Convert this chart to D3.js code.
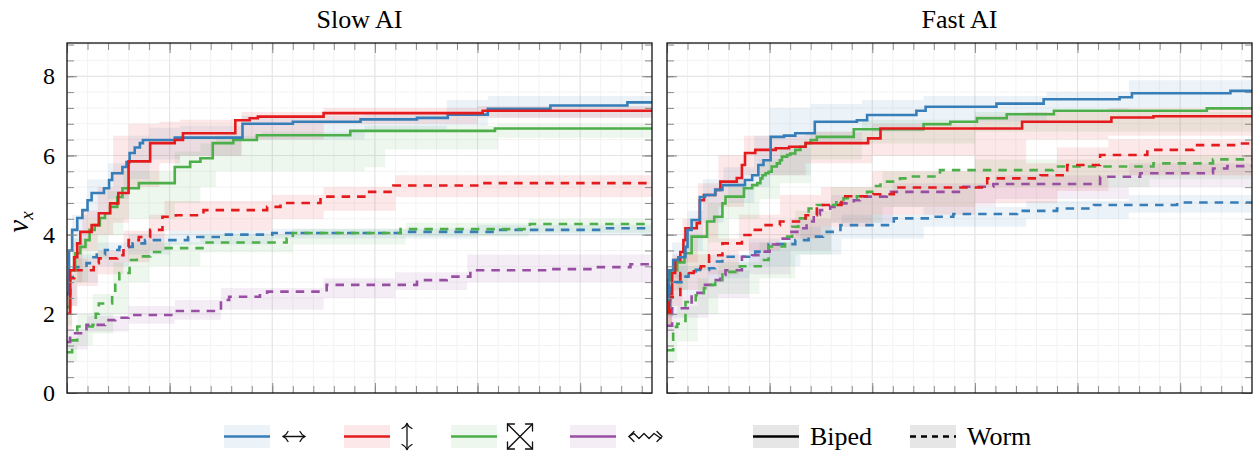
<!DOCTYPE html>
<html>
<head>
<meta charset="utf-8">
<script src="https://cdn.jsdelivr.net/npm/d3@7"></script>
<style>
  body { margin: 0; background: #fff; }
  svg { display: block; }
</style>
</head>
<body>
<svg id="chart" width="1253" height="453"></svg>
<script>
// x runs over the run length (no labels on the axis), y is v_x
const xMax = 570;
const yMax = 8.84;
const yTicks = [0, 2, 4, 6, 8];
const panelTitles = ["Slow AI", "Fast AI"];

// ---- Slow AI: [x, v] means and [x, lo, hi] bands ----
const slowBlueSolid = [[0,2.5],[2,3.6],[5,4.12],[10,4.42],[15,4.62],[20,4.87],[24,5.05],[36,5.17],[41,5.38],[44,5.55],[54,5.71],[58,5.83],[61,6.06],[66,6.2],[71,6.31],[74,6.39],[105,6.45],[171,6.8],[220,6.85],[286,6.91],[341,6.95],[371,7.03],[410,7.18],[471,7.26],[546,7.34],[570,7.34]];
const slowBlueSolidBand = [[0,2.0,3.0],[5,3.7,4.5],[20,4.4,5.4],[40,4.9,5.8],[60,5.4,6.5],[80,5.9,6.7],[110,6.0,6.75],[170,6.4,7.0],[290,6.6,7.1],[370,6.75,7.4],[410,6.95,7.5],[570,7.0,7.5]];
const slowRedSolid = [[0,2.0],[3,3.1],[7,3.43],[10,3.78],[13,4.07],[24,4.24],[31,4.54],[42,4.79],[50,5.05],[60,5.85],[81,6.31],[105,6.39],[113,6.56],[164,6.89],[178,6.94],[186,6.98],[250,7.07],[405,7.13],[570,7.13]];
const slowRedSolidBand = [[0,1.6,2.6],[5,2.8,3.8],[15,3.6,4.6],[30,4.0,5.2],[45,4.3,6.5],[60,5.2,6.8],[90,5.8,6.85],[110,6.0,6.9],[170,6.4,7.1],[250,6.8,7.2],[400,6.95,7.25],[570,6.98,7.25]];
const slowGreenSolid = [[0,2.17],[3,3.1],[8,3.53],[13,3.69],[18,3.86],[22,4.12],[27,4.24],[32,4.42],[37,4.54],[42,4.7],[49,4.95],[54,5.17],[70,5.3],[105,5.71],[120,5.84],[130,5.93],[142,6.31],[162,6.39],[185,6.51],[276,6.62],[417,6.68],[570,6.68]];
const slowGreenSolidBand = [[0,1.7,2.6],[5,2.8,3.9],[20,3.4,4.4],[40,4.0,5.1],[55,4.4,5.6],[105,4.8,6.1],[130,5.2,6.3],[145,5.6,6.5],[190,5.6,6.6],[290,5.7,6.75],[310,6.15,6.75],[420,6.45,6.8],[570,6.45,6.8]];
const slowBlueDash = [[0,2.5],[3,2.93],[7,3.18],[19,3.28],[24,3.43],[29,3.5],[37,3.61],[51,3.69],[64,3.78],[76,3.86],[118,3.94],[150,4.0],[200,4.04],[327,4.07],[419,4.12],[520,4.16],[570,4.16]];
const slowBlueDashBand = [[0,2.2,2.9],[10,2.8,3.5],[30,3.2,3.8],[60,3.5,4.0],[100,3.75,4.1],[200,3.9,4.15],[400,3.98,4.25],[570,4.02,4.3]];
const slowRedDash = [[0,2.5],[3,2.9],[7,3.1],[26,3.28],[31,3.4],[49,3.48],[55,3.69],[60,3.86],[70,3.94],[81,4.12],[93,4.45],[106,4.49],[133,4.62],[195,4.7],[208,4.8],[247,4.96],[293,5.08],[318,5.24],[402,5.3],[570,5.3]];
const slowRedDashBand = [[0,2.2,2.8],[10,2.7,3.4],[30,3.0,3.6],[55,3.3,4.1],[80,3.6,4.5],[95,4.1,4.85],[200,4.4,5.0],[250,4.6,5.2],[320,4.95,5.5],[570,5.05,5.5]];
const slowGreenDash = [[0,1.03],[5,1.33],[10,1.68],[25,1.72],[28,2.0],[31,2.26],[44,2.52],[47,2.78],[51,3.03],[61,3.36],[68,3.45],[81,3.56],[93,3.66],[132,3.8],[214,3.9],[220,4.04],[325,4.14],[451,4.27],[570,4.27]];
const slowGreenDashBand = [[0,0.8,1.4],[10,1.2,2.0],[25,1.5,2.5],[45,2.0,3.3],[60,2.8,3.8],[80,3.2,3.8],[130,3.55,4.0],[220,3.75,4.15],[330,3.95,4.3],[450,4.05,4.4],[570,4.1,4.4]];
const slowPurpleDash = [[0,1.29],[3,1.51],[19,1.72],[37,1.84],[47,1.9],[60,1.97],[105,2.07],[150,2.35],[158,2.43],[188,2.47],[195,2.56],[253,2.73],[341,2.85],[370,2.94],[393,3.1],[471,3.13],[516,3.18],[549,3.25],[570,3.25]];
const slowPurpleDashBand = [[0,1.1,1.6],[20,1.55,1.95],[60,1.75,2.2],[105,1.85,2.35],[150,2.1,2.65],[250,2.4,2.9],[320,2.6,3.05],[390,2.8,3.5],[570,2.95,3.5]];

// ---- Fast AI ----
const fastBlueSolid = [[0,2.35],[2,3.1],[6,3.36],[11,3.43],[18,3.69],[20,4.12],[24,4.37],[32,4.95],[37,5.0],[47,5.13],[54,5.25],[76,5.38],[83,5.5],[89,5.76],[94,5.88],[101,6.47],[114,6.5],[125,6.56],[144,6.85],[185,6.89],[195,7.02],[243,7.13],[252,7.23],[321,7.31],[367,7.42],[441,7.47],[453,7.57],[549,7.63],[570,7.63]];
const fastBlueSolidBand = [[0,2.0,2.8],[5,2.9,3.8],[20,3.6,4.6],[35,4.3,5.4],[55,4.8,5.7],[85,5.2,6.5],[100,5.5,7.2],[140,6.3,7.3],[190,6.6,7.4],[250,6.85,7.5],[370,7.1,7.6],[450,7.2,7.9],[570,7.3,8.0]];
const fastRedSolid = [[0,2.0],[2,2.5],[5,3.03],[8,3.36],[13,3.56],[16,3.86],[18,4.16],[29,4.29],[32,4.87],[36,5.0],[47,5.13],[52,5.34],[68,5.43],[73,5.76],[76,6.06],[86,6.14],[106,6.18],[119,6.22],[135,6.31],[196,6.43],[208,6.68],[346,6.85],[433,6.96],[474,6.99],[570,6.99]];
const fastRedSolidBand = [[0,1.7,2.5],[5,2.6,3.5],[15,3.3,4.4],[30,3.9,5.3],[50,4.7,6.0],[75,5.5,6.5],[135,5.8,6.6],[200,6.0,6.8],[300,5.8,7.0],[350,6.4,7.1],[430,6.5,7.2],[570,6.6,7.25]];
const fastGreenSolid = [[0,2.0],[1,2.85],[4,3.1],[10,3.3],[17,3.53],[24,3.95],[39,4.33],[46,4.45],[54,4.79],[57,4.96],[75,5.17],[83,5.25],[88,5.3],[91,5.42],[93,5.5],[96,5.55],[99,5.59],[102,5.72],[107,5.8],[110,5.88],[112,5.97],[117,6.01],[120,6.05],[125,6.14],[130,6.22],[135,6.31],[140,6.39],[146,6.47],[182,6.66],[250,6.79],[276,6.85],[302,6.94],[331,7.04],[377,7.13],[526,7.19],[570,7.19]];
const fastGreenSolidBand = [[0,1.6,2.5],[5,2.6,3.4],[20,3.1,4.0],[40,3.8,4.8],[60,4.4,5.3],[90,4.9,5.9],[110,5.3,6.2],[140,5.9,6.6],[190,6.3,6.9],[300,6.6,7.1],[570,6.9,7.3]];
const fastRedDash = [[0,2.0],[3,2.43],[13,3.03],[26,3.15],[33,3.2],[41,3.48],[54,3.78],[73,3.99],[83,4.12],[94,4.24],[110,4.33],[135,4.49],[146,4.75],[170,4.97],[201,5.02],[221,5.19],[312,5.42],[364,5.5],[390,5.76],[422,6.01],[468,6.14],[513,6.26],[559,6.3],[570,6.3]];
const fastRedDashBand = [[0,1.7,2.4],[5,2.2,3.0],[15,2.6,3.5],[40,3.0,3.9],[70,3.6,4.5],[110,3.9,5.0],[150,4.2,5.2],[200,4.5,5.6],[300,4.8,5.8],[380,5.1,6.2],[430,5.5,6.4],[570,5.8,6.6]];
const fastBlueDash = [[0,2.2],[3,2.68],[8,2.8],[18,2.94],[21,3.07],[28,3.11],[41,3.15],[47,3.32],[54,3.44],[86,3.57],[99,3.76],[125,3.86],[138,3.95],[152,4.07],[169,4.24],[221,4.41],[256,4.45],[279,4.52],[341,4.6],[380,4.66],[416,4.75],[497,4.81],[570,4.81]];
const fastBlueDashBand = [[0,1.9,2.6],[10,2.5,3.2],[40,2.9,3.5],[80,3.2,3.9],[130,3.5,4.2],[170,3.9,4.5],[250,4.2,4.7],[350,4.4,4.85],[450,4.55,5.0],[570,4.6,5.05]];
const fastGreenDash = [[0,1.08],[6,1.67],[10,1.75],[18,2.3],[28,2.47],[36,2.65],[41,2.73],[47,2.85],[54,3.06],[71,3.2],[93,3.36],[99,3.7],[115,3.95],[122,4.2],[128,4.41],[138,4.66],[146,4.75],[165,4.87],[172,4.92],[185,4.97],[195,5.08],[200,5.23],[208,5.34],[227,5.42],[237,5.47],[266,5.63],[376,5.72],[474,5.8],[532,5.9],[570,5.9]];
const fastGreenDashBand = [[0,0.8,1.4],[10,1.3,2.2],[30,2.0,2.9],[50,2.5,3.3],[90,2.9,3.8],[125,3.5,4.6],[160,4.3,5.2],[210,4.7,5.6],[300,5.2,5.9],[470,5.4,6.0],[570,5.5,6.1]];
const fastPurpleDash = [[0,1.7],[5,2.14],[24,2.53],[37,2.73],[44,2.85],[52,2.98],[57,3.1],[73,3.44],[83,3.48],[89,3.57],[100,3.75],[109,3.9],[119,4.07],[127,4.16],[136,4.33],[143,4.5],[149,4.62],[159,4.7],[169,4.79],[182,4.87],[188,4.96],[214,5.08],[286,5.21],[318,5.28],[422,5.46],[461,5.55],[532,5.67],[546,5.73],[570,5.76]];
const fastPurpleDashBand = [[0,1.4,2.0],[10,1.9,2.5],[40,2.4,3.1],[80,3.0,3.8],[120,3.6,4.4],[160,4.3,5.0],[220,4.7,5.3],[320,4.9,5.5],[450,5.2,5.8],[570,5.4,6.0]];

const colors = { blue: '#377eb8', red: '#e41a1c', green: '#4daf4a', purple: '#984ea3' };
const serif = "'Liberation Serif', 'Times New Roman', Times, 'DejaVu Serif', serif";

const panels = [
    [
        { mean: slowBlueDash, band: slowBlueDashBand, color: colors.blue, dash: true },
        { mean: slowGreenDash, band: slowGreenDashBand, color: colors.green, dash: true },
        { mean: slowPurpleDash, band: slowPurpleDashBand, color: colors.purple, dash: true },
        { mean: slowRedDash, band: slowRedDashBand, color: colors.red, dash: true },
        { mean: slowGreenSolid, band: slowGreenSolidBand, color: colors.green, dash: false },
        { mean: slowBlueSolid, band: slowBlueSolidBand, color: colors.blue, dash: false },
        { mean: slowRedSolid, band: slowRedSolidBand, color: colors.red, dash: false }
    ],
    [
        { mean: fastBlueDash, band: fastBlueDashBand, color: colors.blue, dash: true },
        { mean: fastPurpleDash, band: fastPurpleDashBand, color: colors.purple, dash: true },
        { mean: fastGreenDash, band: fastGreenDashBand, color: colors.green, dash: true },
        { mean: fastRedDash, band: fastRedDashBand, color: colors.red, dash: true },
        { mean: fastGreenSolid, band: fastGreenSolidBand, color: colors.green, dash: false },
        { mean: fastRedSolid, band: fastRedSolidBand, color: colors.red, dash: false },
        { mean: fastBlueSolid, band: fastBlueSolidBand, color: colors.blue, dash: false }
    ]
];

const svg = d3.select('#chart').style('font-family', serif);
const marginTop = 43, height = 350, width = 585;
const lefts = [67, 667];

const x = d3.scaleLinear().domain([0, xMax]).range([0, width]);
const y = d3.scaleLinear().domain([0, yMax]).range([height, 0]);

const majorX = d3.range(0, xMax + 1, 100);
const minorX = d3.range(0, xMax + 1, 20);
const majorY = yTicks;
const minorY = d3.range(0, yMax, 0.4);

const line = d3.line().curve(d3.curveStepAfter).x(d => x(d[0])).y(d => y(d[1]));
const area = d3.area().curve(d3.curveStepAfter).x(d => x(d[0])).y0(d => y(d[1])).y1(d => y(d[2]));

panels.forEach((series, i) => {
    const g = svg.append('g').attr('transform', `translate(${lefts[i]},${marginTop})`);

    g.append('clipPath').attr('id', 'clip' + i)
        .append('rect').attr('width', width).attr('height', height);

    // grid
    const grid = g.append('g');
    grid.selectAll('.mx').data(minorX).enter().append('line')
        .attr('x1', d => x(d)).attr('x2', d => x(d)).attr('y1', 0).attr('y2', height)
        .attr('stroke', '#f3f3f3');
    grid.selectAll('.my').data(minorY).enter().append('line')
        .attr('y1', d => y(d)).attr('y2', d => y(d)).attr('x1', 0).attr('x2', width)
        .attr('stroke', '#f3f3f3');
    grid.selectAll('.Mx').data(majorX).enter().append('line')
        .attr('x1', d => x(d)).attr('x2', d => x(d)).attr('y1', 0).attr('y2', height)
        .attr('stroke', '#e4e4e4');
    grid.selectAll('.My').data(majorY).enter().append('line')
        .attr('y1', d => y(d)).attr('y2', d => y(d)).attr('x1', 0).attr('x2', width)
        .attr('stroke', '#e4e4e4');

    const plot = g.append('g').attr('clip-path', `url(#clip${i})`);
    plot.selectAll('.band').data(series).enter().append('path')
        .attr('d', d => area(d.band))
        .attr('fill', d => d.color)
        .attr('fill-opacity', 0.1);
    plot.selectAll('.line').data(series).enter().append('path')
        .attr('d', d => line(d.mean))
        .attr('fill', 'none')
        .attr('stroke', d => d.color)
        .attr('stroke-width', 2.6)
        .attr('stroke-dasharray', d => d.dash ? '8.5,7' : null);

    // ticks pointing inward on all four sides
    const tickStyle = sel => {
        sel.select('.domain').remove();
        sel.selectAll('.tick line').attr('stroke', '#8a8a8a');
    };
    g.append('g').attr('transform', `translate(0,${height})`)
        .call(d3.axisBottom(x).tickValues(minorX).tickSize(-7).tickFormat('')).call(tickStyle);
    g.append('g').attr('transform', `translate(0,${height})`)
        .call(d3.axisBottom(x).tickValues(majorX).tickSize(-10).tickFormat('')).call(tickStyle);
    g.append('g')
        .call(d3.axisTop(x).tickValues(minorX).tickSize(-7).tickFormat('')).call(tickStyle);
    g.append('g')
        .call(d3.axisTop(x).tickValues(majorX).tickSize(-10).tickFormat('')).call(tickStyle);
    g.append('g')
        .call(d3.axisLeft(y).tickValues(minorY).tickSize(-7).tickFormat('')).call(tickStyle);
    const yl = g.append('g')
        .call(d3.axisLeft(y).tickValues(majorY).tickSize(-10).tickPadding(12)
            .tickFormat(i === 0 ? d3.format('d') : ''))
        .call(tickStyle);
    yl.attr('font-family', serif).attr('font-size', 24);
    yl.selectAll('text').attr('fill', '#000');
    g.append('g').attr('transform', `translate(${width},0)`)
        .call(d3.axisRight(y).tickValues(minorY).tickSize(-7).tickFormat('')).call(tickStyle);
    g.append('g').attr('transform', `translate(${width},0)`)
        .call(d3.axisRight(y).tickValues(majorY).tickSize(-10).tickFormat('')).call(tickStyle);

    g.append('rect').attr('width', width).attr('height', height)
        .attr('fill', 'none').attr('stroke', '#111').attr('stroke-width', 1.3);

    g.append('text').attr('x', width / 2).attr('y', -15)
        .attr('text-anchor', 'middle').attr('font-size', 26).attr('font-family', serif)
        .text(panelTitles[i]);
});

// y label
const yLab = svg.append('text')
    .attr('transform', 'translate(28,222) rotate(-90)')
    .attr('text-anchor', 'middle').attr('font-size', 29).attr('font-style', 'italic')
    .attr('font-family', serif);
yLab.append('tspan').text('ν');
yLab.append('tspan').attr('font-size', 19).attr('dy', 5).text('x');

// legend
const legend = svg.append('g');
const ly = 436.5;
const colorItems = [
    { color: colors.blue, x: 224 },
    { color: colors.red, x: 344 },
    { color: colors.green, x: 451 },
    { color: colors.purple, x: 570 }
];
colorItems.forEach(d => {
    legend.append('rect').attr('x', d.x).attr('y', ly - 11.5).attr('width', 46).attr('height', 23)
        .attr('fill', d.color).attr('fill-opacity', 0.1);
    legend.append('line').attr('x1', d.x).attr('x2', d.x + 46).attr('y1', ly).attr('y2', ly)
        .attr('stroke', d.color).attr('stroke-width', 2.6);
});

// legend glyphs drawn as thin strokes (math arrows)
const ink = legend.append('g').attr('stroke', '#111').attr('stroke-width', 1.3)
    .attr('fill', 'none').attr('stroke-linejoin', 'round').attr('stroke-linecap', 'round');

// left-right arrow
ink.append('path').attr('d', `M283,${ly}L305,${ly}`);
ink.append('path').attr('d', `M288,${ly - 5}Q286,${ly - 1} 283,${ly}Q286,${ly + 1} 288,${ly + 5}`);
ink.append('path').attr('d', `M300,${ly - 5}Q302,${ly - 1} 305,${ly}Q302,${ly + 1} 300,${ly + 5}`);

// up-down arrow
const ux = 407;
ink.append('path').attr('d', `M${ux},${ly - 13}L${ux},${ly + 13}`);
ink.append('path').attr('d', `M${ux - 5},${ly - 8}Q${ux - 1},${ly - 10} ${ux},${ly - 13}Q${ux + 1},${ly - 10} ${ux + 5},${ly - 8}`);
ink.append('path').attr('d', `M${ux - 5},${ly + 8}Q${ux - 1},${ly + 10} ${ux},${ly + 13}Q${ux + 1},${ly + 10} ${ux + 5},${ly + 8}`);

// crossed arrows symbol
const cx = 520, cy = ly, r = 12.5, a = 7;
ink.append('path').attr('d', `M${cx - r},${cy - r}L${cx + r},${cy + r}M${cx + r},${cy - r}L${cx - r},${cy + r}`);
[[-1, -1], [1, -1], [-1, 1], [1, 1]].forEach(([sx, sy]) => {
    const px = cx + sx * r, py = cy + sy * r;
    ink.append('path').attr('d', `M${px - sx * a},${py}L${px},${py}L${px},${py - sy * a}`);
});

// squiggly left-right arrow
const sq = d3.path();
sq.moveTo(629, ly);
[634, 639, 644, 649, 654, 661].forEach((px, k) => sq.lineTo(px, k % 2 === 0 ? ly - 3 : ly + 2));
ink.append('path').attr('d', sq.toString());
ink.append('path').attr('d', `M634,${ly - 5}L629,${ly}L634,${ly + 5}M657,${ly - 5}L662,${ly}L657,${ly + 5}`);

const styleItems = [
    { x: 753, dash: null, label: 'Biped' },
    { x: 910, dash: '6,5', label: 'Worm' }
];
styleItems.forEach(d => {
    legend.append('rect').attr('x', d.x).attr('y', ly - 11.5).attr('width', 46).attr('height', 23)
        .attr('fill', '#e6e6e6');
    legend.append('line').attr('x1', d.x).attr('x2', d.x + 46).attr('y1', ly).attr('y2', ly)
        .attr('stroke', '#000').attr('stroke-width', 2.6).attr('stroke-dasharray', d.dash);
    legend.append('text').attr('x', d.x + 57).attr('y', ly + 8.5).attr('font-size', 26)
        .attr('font-family', serif).text(d.label);
});
</script>
</body>
</html>
